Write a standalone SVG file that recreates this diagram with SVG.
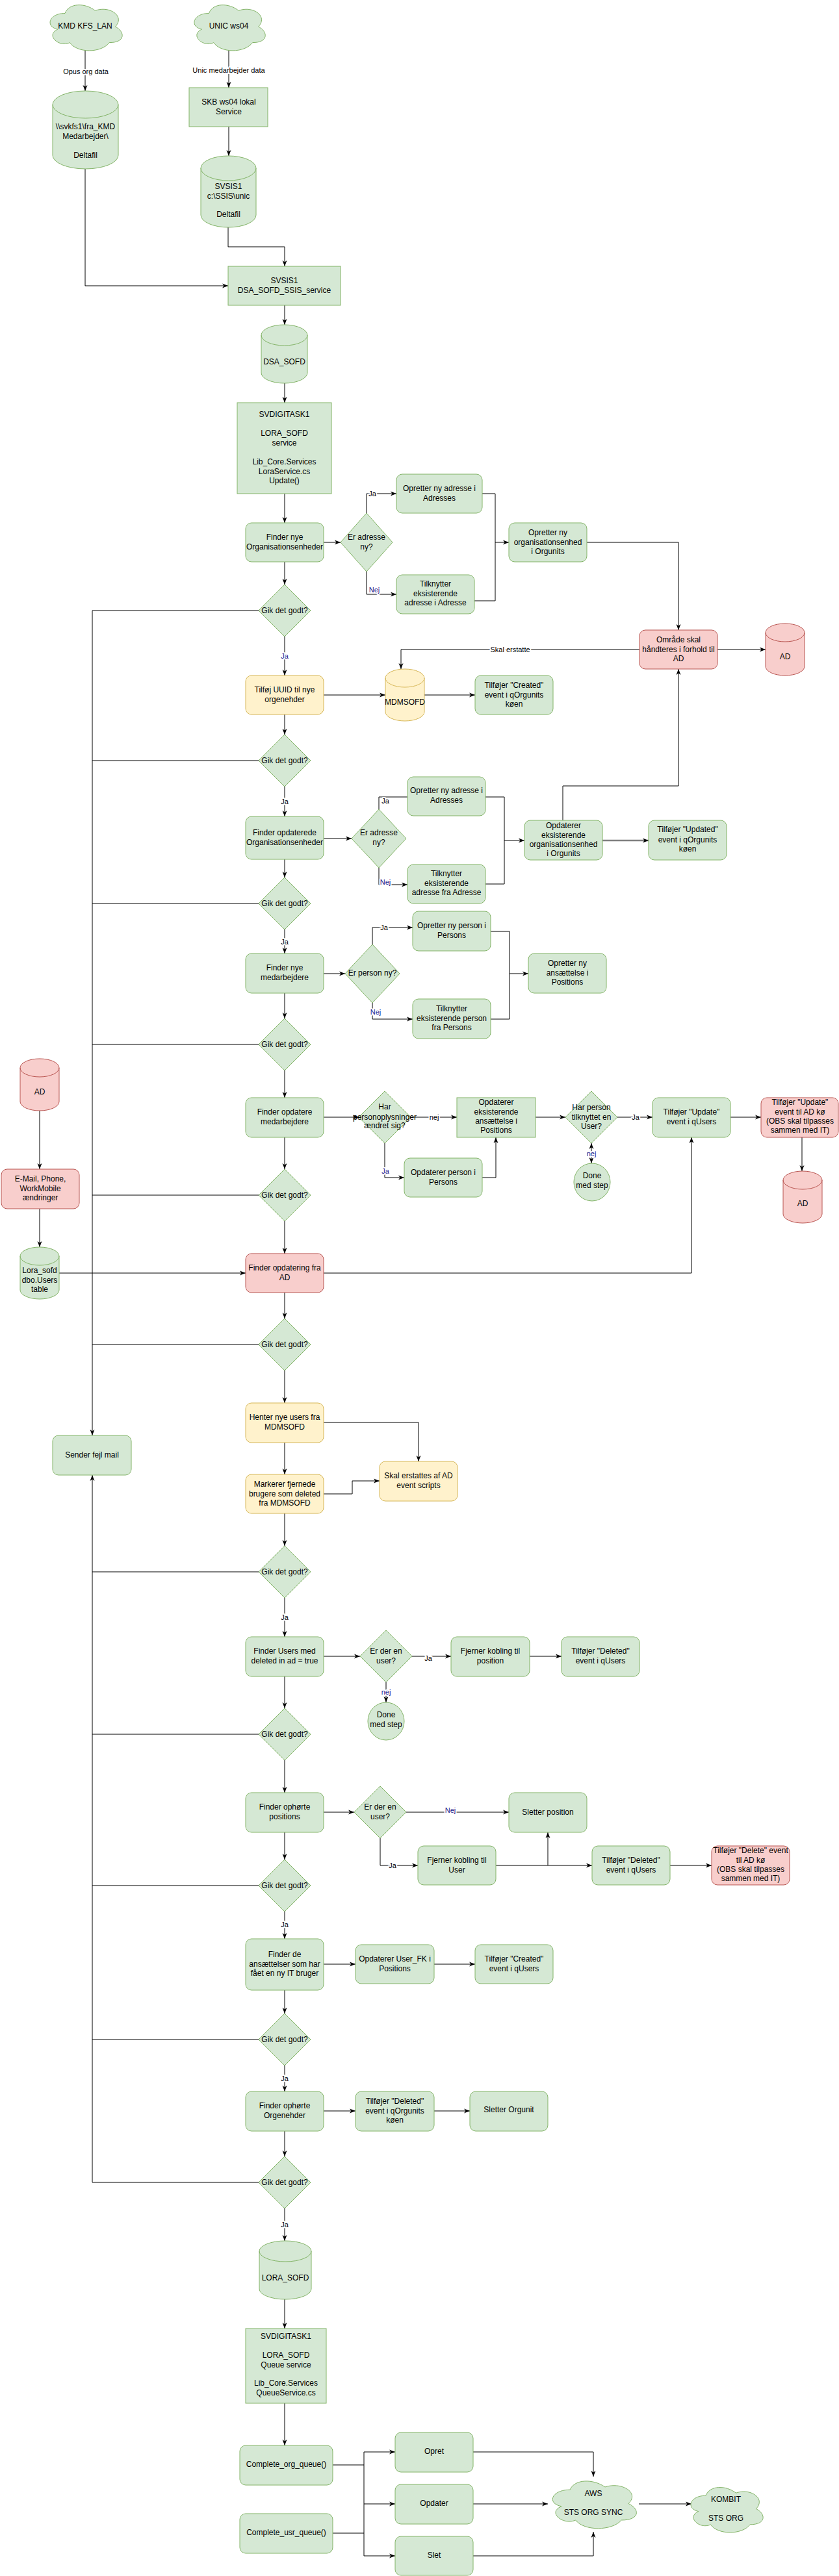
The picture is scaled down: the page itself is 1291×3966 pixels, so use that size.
<svg xmlns="http://www.w3.org/2000/svg" xmlns:xlink="http://www.w3.org/1999/xlink" width="1291" height="3966" viewBox="0 0 1291 3966">
<style>
.g{fill:#d5e8d4;stroke:#82b366;stroke-width:1}
.y{fill:#fff2cc;stroke:#d6b656;stroke-width:1}
.r{fill:#f8cecc;stroke:#b85450;stroke-width:1}
.nf{fill:none}
.t{font-family:"Liberation Sans",Arial,sans-serif;font-size:12px;text-anchor:middle;fill:#000}
.e{fill:none;stroke:#000;stroke-width:1}
.a{marker-end:url(#arr)}
.l{font-family:"Liberation Sans",Arial,sans-serif;font-size:11px;text-anchor:middle;fill:#000;paint-order:stroke;stroke:#fff;stroke-width:4px;stroke-linejoin:round}
.b{fill:#1a1a8c}
</style>
<defs>
<marker id="arr" markerWidth="10" markerHeight="8" refX="9" refY="4" orient="auto-start-reverse" markerUnits="userSpaceOnUse"><path d="M0,0.5 L9,4 L0,7.5 L2.5,4 Z" fill="#000"/></marker>
<path id="cloud" vector-effect="non-scaling-stroke" d="M25,25 C5,25 0,50 16,55 C0,66 18,90 31,80 C40,100 70,100 80,80 C100,80 100,60 87.5,50 C100,30 80,10 62.5,20 C50,5 30,5 25,25 Z"/>
</defs>
<rect width="1291" height="3966" fill="#fff"/>

<g id="connectors">
<path class="e a" d="M131,78 V140"/>
<path class="e a" d="M352,78 V135"/>
<path class="e a" d="M352,195 V240"/>
<path class="e a" d="M131,260 V440 H351"/>
<path class="e a" d="M351,350 V380 H438 V410"/>
<path class="e a" d="M438,470 V500"/>
<path class="e a" d="M438,590 V620"/>
<path class="e a" d="M438,760 V805"/>
<path class="e a" d="M498,835 H524"/>
<path class="e a" d="M564,790 V760 H610"/>
<path class="e a" d="M564,880 V915 H610"/>
<path class="e a" d="M742,760 H762 V835 H783"/>
<path class="e" d="M730,925 H762 V835"/>
<path class="e a" d="M903,835 H1044 V970"/>
<path class="e a" d="M438,865 V900"/>
<path class="e" d="M398,940 H142"/>
<path class="e a" d="M142,940 V2210"/>
<path class="e a" d="M438,980 V1040"/>
<path class="e a" d="M498,1070 H593"/>
<path class="e a" d="M653,1070 H731"/>
<path class="e a" d="M984,1000 H617 V1030"/>
<path class="e a" d="M1104,1000 H1178"/>
<path class="e a" d="M438,1100 V1131"/>
<path class="e" d="M398,1171 H142"/>
<path class="e a" d="M438,1211 V1257"/>
<path class="e a" d="M498,1291 H541"/>
<path class="e a" d="M583,1246 V1227 H645 H627"/>
<path class="e a" d="M583,1336 V1362 H627"/>
<path class="e a" d="M747,1227 H776 V1294 H807"/>
<path class="e" d="M747,1361 H776 V1294"/>
<path class="e a" d="M866,1263 V1210 H1044 V1030"/>
<path class="a" d="M927,1294 H998" fill="none" stroke="#808080" stroke-width="2.5"/>
<path class="e a" d="M438,1323 V1351"/>
<path class="e" d="M398,1391 H142"/>
<path class="e a" d="M438,1431 V1468"/>
<path class="e a" d="M498,1499 H531"/>
<path class="e a" d="M573,1454 V1428 H635"/>
<path class="e a" d="M573,1544 V1569 H635"/>
<path class="e a" d="M755,1434 H784 V1499 H813"/>
<path class="e" d="M755,1569 H784 V1499"/>
<path class="e a" d="M438,1529 V1568"/>
<path class="e" d="M398,1608 H142"/>
<path class="e a" d="M438,1648 V1690"/>
<path class="e a" d="M498,1720 H552"/>
<path class="e a" d="M632,1720 H703"/>
<path class="e a" d="M592,1760 V1813 H622"/>
<path class="e a" d="M742,1813 H763 V1751"/>
<path class="e a" d="M824,1720 H870"/>
<path class="e a" d="M950,1720 H1004"/>
<path class="e a" d="M910,1760 V1791" marker-start="url(#arr)"/>
<path class="e a" d="M1124,1720 H1171"/>
<path class="e a" d="M1234,1751 V1803"/>
<path class="e a" d="M61,1710 V1800"/>
<path class="e a" d="M61,1861 V1920"/>
<path class="e a" d="M91,1960 H378"/>
<path class="e a" d="M438,1751 V1800"/>
<path class="e" d="M398,1840 H142"/>
<path class="e a" d="M438,1880 V1930"/>
<path class="e a" d="M498,1960 H1064 V1751"/>
<path class="e a" d="M438,1990 V2030"/>
<path class="e" d="M398,2070 H142"/>
<path class="e a" d="M438,2110 V2160"/>
<path class="e a" d="M498,2190 H644 V2250"/>
<path class="e a" d="M438,2221 V2270"/>
<path class="e a" d="M498,2300 H542 V2280 H584"/>
<path class="e a" d="M438,2330 V2380"/>
<path class="e" d="M398,2420 H142"/>
<path class="e a" d="M438,2460 V2520"/>
<path class="e a" d="M498,2550 H554"/>
<path class="e a" d="M634,2550 H694"/>
<path class="e a" d="M815,2550 H864"/>
<path class="e a" d="M594,2590 V2621"/>
<path class="e a" d="M438,2581 V2630"/>
<path class="e" d="M398,2670 H142"/>
<path class="e a" d="M438,2710 V2760"/>
<path class="e a" d="M498,2790 H545"/>
<path class="e a" d="M625,2790 H783"/>
<path class="e a" d="M585,2830 V2872 H643"/>
<path class="e a" d="M763,2872 H911"/>
<path class="e a" d="M843,2872 V2821"/>
<path class="e a" d="M1031,2872 H1095"/>
<path class="e a" d="M438,2821 V2863"/>
<path class="e" d="M398,2903 H142"/>
<path class="e a" d="M438,2943 V2985"/>
<path class="e a" d="M498,3024 H547"/>
<path class="e a" d="M668,3024 H731"/>
<path class="e a" d="M438,3064 V3100"/>
<path class="e" d="M398,3140 H142"/>
<path class="e a" d="M438,3180 V3220"/>
<path class="e a" d="M498,3250 H547"/>
<path class="e a" d="M668,3250 H723"/>
<path class="e a" d="M438,3281 V3320"/>
<path class="e a" d="M398,3360 H142 V2271"/>
<path class="e a" d="M438,3400 V3450"/>
<path class="e a" d="M438,3540 V3585"/>
<path class="e a" d="M438,3700 V3765"/>
<path class="e" d="M512,3795 H560 M512,3900 H560 M560,3775 V3935"/>
<path class="e a" d="M560,3775 H608"/>
<path class="e a" d="M560,3855 H608"/>
<path class="e a" d="M560,3935 H608"/>
<path class="e a" d="M728,3775 H913 V3813"/>
<path class="e a" d="M728,3855 H843"/>
<path class="e a" d="M728,3935 H913 V3898"/>
<path class="e a" d="M983,3855 H1064"/>

<text class="l" x="132" y="114">Opus org data</text>
<text class="l" x="352" y="112">Unic medarbejder data</text>
<text class="l" x="573" y="764">Ja</text>
<text class="l b" x="576" y="912">Nej</text>
<text class="l b" x="438" y="1014">Ja</text>
<text class="l" x="785" y="1004">Skal erstatte</text>
<text class="l" x="438" y="1238">Ja</text>
<text class="l" x="593" y="1237">Ja</text>
<text class="l b" x="593" y="1362">Nej</text>
<text class="l" x="438" y="1454">Ja</text>
<text class="l" x="591" y="1432">Ja</text>
<text class="l b" x="578" y="1562">Nej</text>
<text class="l" x="668" y="1724">nej</text>
<text class="l b" x="593" y="1807">Ja</text>
<text class="l" x="978" y="1724">Ja</text>
<text class="l b" x="910" y="1780">nej</text>
<text class="l" x="438" y="2494">Ja</text>
<text class="l" x="659" y="2557">Ja</text>
<text class="l b" x="594" y="2609">nej</text>
<text class="l b" x="693" y="2791">Nej</text>
<text class="l" x="604" y="2876">Ja</text>
<text class="l" x="438" y="2967">Ja</text>
<text class="l" x="438" y="3204">Ja</text>
<text class="l" x="438" y="3429">Ja</text>
</g>

<g id="n-kmd-cloud"><use xlink:href="#cloud" class="g" transform="translate(69,0) scale(1.24,0.82)"/><text class="t" x="131" y="44">KMD KFS_LAN</text></g>
<g id="n-unic-cloud"><use xlink:href="#cloud" class="g" transform="translate(291,0) scale(1.22,0.82)"/><text class="t" x="352" y="44">UNIC ws04</text></g>
<g id="n-kmd-file"><path class="g" d="M81,161 A50.5,21 0 0 1 182,161 V239 A50.5,21 0 0 1 81,239 Z"/><path class="g nf" d="M81,161 A50.5,21 0 0 0 182,161"/><text class="t"><tspan x="131.5" y="199">\\svkfs1\fra_KMD</tspan><tspan x="131.5" y="214">Medarbejder\</tspan><tspan x="131.5" y="243">Deltafil</tspan></text></g>
<g id="n-skb"><rect class="g" x="291" y="135" width="121" height="60"/><text class="t"><tspan x="352" y="161">SKB ws04 lokal</tspan><tspan x="352" y="176">Service</tspan></text></g>
<g id="n-ssis-unic"><path class="g" d="M309,259 A42.5,19 0 0 1 394,259 V331 A42.5,19 0 0 1 309,331 Z"/><path class="g nf" d="M309,259 A42.5,19 0 0 0 394,259"/><text class="t"><tspan x="351.5" y="291">SVSIS1</tspan><tspan x="351.5" y="306">c:\SSIS\unic</tspan><tspan x="351.5" y="334">Deltafil</tspan></text></g>
<g id="n-ssis-service"><rect class="g" x="351" y="410" width="173" height="60"/><text class="t"><tspan x="437.5" y="436">SVSIS1</tspan><tspan x="437.5" y="451">DSA_SOFD_SSIS_service</tspan></text></g>
<g id="n-dsa-sofd"><path class="g" d="M402,516 A35.5,16 0 0 1 473,516 V574 A35.5,16 0 0 1 402,574 Z"/><path class="g nf" d="M402,516 A35.5,16 0 0 0 473,516"/><text class="t" x="437.5" y="561">DSA_SOFD</text></g>
<g id="n-lora-service"><rect class="g" x="365" y="620" width="145" height="140"/><text class="t"><tspan x="437.5" y="642">SVDIGITASK1</tspan><tspan x="437.5" y="671">LORA_SOFD</tspan><tspan x="437.5" y="686">service</tspan><tspan x="437.5" y="715">Lib_Core.Services</tspan><tspan x="437.5" y="730">LoraService.cs</tspan><tspan x="437.5" y="744">Update()</tspan></text></g>
<g id="n-finder-nye-org"><rect class="g" x="378" y="805" width="120" height="60" rx="9"/><text class="t"><tspan x="438" y="831">Finder nye</tspan><tspan x="438" y="846">Organisationsenheder</tspan></text></g>
<g id="n-er-adresse-ny-1"><polygon class="g" points="564,790 604,835 564,880 524,835"/><text class="t"><tspan x="564" y="831">Er adresse</tspan><tspan x="564" y="846">ny?</tspan></text></g>
<g id="n-opretter-adresse-1"><rect class="g" x="610" y="730" width="132" height="60" rx="9"/><text class="t"><tspan x="676" y="756">Opretter ny adresse i</tspan><tspan x="676" y="771">Adresses</tspan></text></g>
<g id="n-tilknytter-adresse-1"><rect class="g" x="610" y="885" width="120" height="60" rx="9"/><text class="t"><tspan x="670" y="903">Tilknytter</tspan><tspan x="670" y="918">eksisterende</tspan><tspan x="670" y="932">adresse i Adresse</tspan></text></g>
<g id="n-opretter-orgunit"><rect class="g" x="783" y="805" width="120" height="60" rx="9"/><text class="t"><tspan x="843" y="824">Opretter ny</tspan><tspan x="843" y="839">organisationsenhed</tspan><tspan x="843" y="853">i Orgunits</tspan></text></g>
<g id="n-gik-1"><polygon class="g" points="438,900 478,940 438,980 398,940"/><text class="t" x="438" y="944">Gik det godt?</text></g>
<g id="n-tilfoej-uuid"><rect class="y" x="378" y="1040" width="120" height="60" rx="9"/><text class="t"><tspan x="438" y="1066">Tilføj UUID til nye</tspan><tspan x="438" y="1081">orgenehder</tspan></text></g>
<g id="n-mdmsofd"><path class="y" d="M593,1044 A30,14 0 0 1 653,1044 V1096 A30,14 0 0 1 593,1096 Z"/><path class="y nf" d="M593,1044 A30,14 0 0 0 653,1044"/><text class="t" x="623" y="1085">MDMSOFD</text></g>
<g id="n-created-qorgunits"><rect class="g" x="731" y="1040" width="120" height="60" rx="9"/><text class="t"><tspan x="791" y="1059">Tilføjer "Created"</tspan><tspan x="791" y="1074">event i qOrgunits</tspan><tspan x="791" y="1088">køen</tspan></text></g>
<g id="n-omraade-ad"><rect class="r" x="984" y="970" width="120" height="60" rx="9"/><text class="t"><tspan x="1044" y="989">Område skal</tspan><tspan x="1044" y="1004">håndteres i forhold til</tspan><tspan x="1044" y="1018">AD</tspan></text></g>
<g id="n-ad-1"><path class="r" d="M1178,974 A30,14 0 0 1 1238,974 V1026 A30,14 0 0 1 1178,1026 Z"/><path class="r nf" d="M1178,974 A30,14 0 0 0 1238,974"/><text class="t" x="1208" y="1015">AD</text></g>
<g id="n-gik-2"><polygon class="g" points="438,1131 478,1171 438,1211 398,1171"/><text class="t" x="438" y="1175">Gik det godt?</text></g>
<g id="n-finder-opd-org"><rect class="g" x="378" y="1257" width="120" height="66" rx="9"/><text class="t"><tspan x="438" y="1286">Finder opdaterede</tspan><tspan x="438" y="1301">Organisationsenheder</tspan></text></g>
<g id="n-er-adresse-ny-2"><polygon class="g" points="583,1246 625,1291 583,1336 541,1291"/><text class="t"><tspan x="583" y="1286">Er adresse</tspan><tspan x="583" y="1301">ny?</tspan></text></g>
<g id="n-opretter-adresse-2"><rect class="g" x="627" y="1196" width="120" height="60" rx="9"/><text class="t"><tspan x="687" y="1221">Opretter ny adresse i</tspan><tspan x="687" y="1236">Adresses</tspan></text></g>
<g id="n-tilknytter-adresse-2"><rect class="g" x="627" y="1331" width="120" height="60" rx="9"/><text class="t"><tspan x="687" y="1349">Tilknytter</tspan><tspan x="687" y="1364">eksisterende</tspan><tspan x="687" y="1378">adresse fra Adresse</tspan></text></g>
<g id="n-opdaterer-orgunit"><rect class="g" x="807" y="1263" width="120" height="61" rx="9"/><text class="t"><tspan x="867" y="1275">Opdaterer</tspan><tspan x="867" y="1290">eksisterende</tspan><tspan x="867" y="1304">organisationsenhed</tspan><tspan x="867" y="1318">i Orgunits</tspan></text></g>
<g id="n-updated-qorgunits"><rect class="g" x="998" y="1263" width="120" height="61" rx="9"/><text class="t"><tspan x="1058" y="1281">Tilføjer "Updated"</tspan><tspan x="1058" y="1297">event i qOrgunits</tspan><tspan x="1058" y="1311">køen</tspan></text></g>
<g id="n-gik-3"><polygon class="g" points="438,1351 478,1391 438,1431 398,1391"/><text class="t" x="438" y="1395">Gik det godt?</text></g>
<g id="n-finder-nye-medarb"><rect class="g" x="378" y="1468" width="120" height="61" rx="9"/><text class="t"><tspan x="438" y="1494">Finder nye</tspan><tspan x="438" y="1509">medarbejdere</tspan></text></g>
<g id="n-er-person-ny"><polygon class="g" points="573,1454 615,1499 573,1544 531,1499"/><text class="t" x="573" y="1502">Er person ny?</text></g>
<g id="n-opretter-person"><rect class="g" x="635" y="1403" width="120" height="61" rx="9"/><text class="t"><tspan x="695" y="1429">Opretter ny person i</tspan><tspan x="695" y="1444">Persons</tspan></text></g>
<g id="n-tilknytter-person"><rect class="g" x="635" y="1538" width="120" height="61" rx="9"/><text class="t"><tspan x="695" y="1557">Tilknytter</tspan><tspan x="695" y="1572">eksisterende person</tspan><tspan x="695" y="1586">fra Persons</tspan></text></g>
<g id="n-opretter-ansaettelse"><rect class="g" x="813" y="1468" width="120" height="61" rx="9"/><text class="t"><tspan x="873" y="1487">Opretter ny</tspan><tspan x="873" y="1502">ansættelse i</tspan><tspan x="873" y="1516">Positions</tspan></text></g>
<g id="n-gik-4"><polygon class="g" points="438,1568 478,1608 438,1648 398,1608"/><text class="t" x="438" y="1612">Gik det godt?</text></g>
<g id="n-finder-opd-medarb"><rect class="g" x="378" y="1690" width="120" height="61" rx="9"/><text class="t"><tspan x="438" y="1716">Finder opdatere</tspan><tspan x="438" y="1731">medarbejdere</tspan></text></g>
<g id="n-har-personopl"><polygon class="g" points="592,1680 632,1720 592,1760 552,1720"/><text class="t"><tspan x="592" y="1708">Har</tspan><tspan x="592" y="1724">personoplysninger</tspan><tspan x="592" y="1737">ændret sig?</tspan></text></g>
<g id="n-opdaterer-ansaettelse"><rect class="g" x="703" y="1690" width="121" height="61"/><text class="t"><tspan x="763.5" y="1701">Opdaterer</tspan><tspan x="763.5" y="1716">eksisterende</tspan><tspan x="763.5" y="1730">ansættelse i</tspan><tspan x="763.5" y="1744">Positions</tspan></text></g>
<g id="n-opdaterer-person"><rect class="g" x="622" y="1783" width="120" height="60" rx="9"/><text class="t"><tspan x="682" y="1809">Opdaterer person i</tspan><tspan x="682" y="1824">Persons</tspan></text></g>
<g id="n-har-person-user"><polygon class="g" points="910,1680 950,1720 910,1760 870,1720"/><text class="t"><tspan x="910" y="1709">Har person</tspan><tspan x="910" y="1724">tilknyttet en</tspan><tspan x="910" y="1738">User?</tspan></text></g>
<g id="n-done-1"><ellipse class="g" cx="911" cy="1820" rx="28" ry="29"/><text class="t"><tspan x="911" y="1814">Done</tspan><tspan x="911" y="1829">med step</tspan></text></g>
<g id="n-update-qusers"><rect class="g" x="1004" y="1690" width="120" height="61" rx="9"/><text class="t"><tspan x="1064" y="1716">Tilføjer "Update"</tspan><tspan x="1064" y="1731">event i qUsers</tspan></text></g>
<g id="n-update-ad"><rect class="r" x="1171" y="1690" width="119" height="61" rx="9"/><text class="t"><tspan x="1231" y="1701">Tilføjer "Update"</tspan><tspan x="1231" y="1716">event til AD kø</tspan><tspan x="1231" y="1730">(OBS skal tilpasses</tspan><tspan x="1231" y="1744">sammen med IT)</tspan></text></g>
<g id="n-ad-2"><path class="r" d="M1205,1817 A30,14 0 0 1 1265,1817 V1869 A30,14 0 0 1 1205,1869 Z"/><path class="r nf" d="M1205,1817 A30,14 0 0 0 1265,1817"/><text class="t" x="1235" y="1857">AD</text></g>
<g id="n-ad-left"><path class="r" d="M31,1644 A30,14 0 0 1 91,1644 V1696 A30,14 0 0 1 31,1696 Z"/><path class="r nf" d="M31,1644 A30,14 0 0 0 91,1644"/><text class="t" x="61" y="1685">AD</text></g>
<g id="n-email-phone"><rect class="r" x="2" y="1800" width="120" height="61" rx="9"/><text class="t"><tspan x="62" y="1819">E-Mail, Phone,</tspan><tspan x="62" y="1834">WorkMobile</tspan><tspan x="62" y="1848">ændringer</tspan></text></g>
<g id="n-lora-users"><path class="g" d="M31,1934 A30,14 0 0 1 91,1934 V1986 A30,14 0 0 1 31,1986 Z"/><path class="g nf" d="M31,1934 A30,14 0 0 0 91,1934"/><text class="t"><tspan x="61" y="1960">Lora_sofd</tspan><tspan x="61" y="1975">dbo.Users</tspan><tspan x="61" y="1989">table</tspan></text></g>
<g id="n-gik-5"><polygon class="g" points="438,1800 478,1840 438,1880 398,1840"/><text class="t" x="438" y="1844">Gik det godt?</text></g>
<g id="n-finder-opd-ad"><rect class="r" x="378" y="1930" width="120" height="60" rx="9"/><text class="t"><tspan x="438" y="1956">Finder opdatering fra</tspan><tspan x="438" y="1971">AD</tspan></text></g>
<g id="n-gik-6"><polygon class="g" points="438,2030 478,2070 438,2110 398,2070"/><text class="t" x="438" y="2074">Gik det godt?</text></g>
<g id="n-henter-users"><rect class="y" x="378" y="2160" width="120" height="61" rx="9"/><text class="t"><tspan x="438" y="2186">Henter nye users fra</tspan><tspan x="438" y="2201">MDMSOFD</tspan></text></g>
<g id="n-skal-erstattes"><rect class="y" x="584" y="2250" width="120" height="61" rx="9"/><text class="t"><tspan x="644" y="2276">Skal erstattes af AD</tspan><tspan x="644" y="2291">event scripts</tspan></text></g>
<g id="n-markerer"><rect class="y" x="378" y="2270" width="120" height="60" rx="9"/><text class="t"><tspan x="438" y="2289">Markerer fjernede</tspan><tspan x="438" y="2304">brugere som deleted</tspan><tspan x="438" y="2318">fra MDMSOFD</tspan></text></g>
<g id="n-sender-fejl"><rect class="g" x="81" y="2210" width="121" height="61" rx="9"/><text class="t" x="141.5" y="2244">Sender fejl mail</text></g>
<g id="n-gik-7"><polygon class="g" points="438,2380 478,2420 438,2460 398,2420"/><text class="t" x="438" y="2424">Gik det godt?</text></g>
<g id="n-finder-users-deleted"><rect class="g" x="378" y="2520" width="120" height="61" rx="9"/><text class="t"><tspan x="438" y="2546">Finder Users med</tspan><tspan x="438" y="2561">deleted in ad = true</tspan></text></g>
<g id="n-er-der-user-1"><polygon class="g" points="594,2510 634,2550 594,2590 554,2550"/><text class="t"><tspan x="594" y="2546">Er der en</tspan><tspan x="594" y="2561">user?</tspan></text></g>
<g id="n-fjerner-position"><rect class="g" x="694" y="2520" width="121" height="61" rx="9"/><text class="t"><tspan x="754.5" y="2546">Fjerner kobling til</tspan><tspan x="754.5" y="2561">position</tspan></text></g>
<g id="n-deleted-qusers-1"><rect class="g" x="864" y="2520" width="120" height="61" rx="9"/><text class="t"><tspan x="924" y="2546">Tilføjer "Deleted"</tspan><tspan x="924" y="2561">event i qUsers</tspan></text></g>
<g id="n-done-2"><ellipse class="g" cx="594" cy="2650" rx="28" ry="29"/><text class="t"><tspan x="594" y="2644">Done</tspan><tspan x="594" y="2659">med step</tspan></text></g>
<g id="n-gik-8"><polygon class="g" points="438,2630 478,2670 438,2710 398,2670"/><text class="t" x="438" y="2674">Gik det godt?</text></g>
<g id="n-finder-ophoerte-pos"><rect class="g" x="378" y="2760" width="120" height="61" rx="9"/><text class="t"><tspan x="438" y="2786">Finder ophørte</tspan><tspan x="438" y="2801">positions</tspan></text></g>
<g id="n-er-der-user-2"><polygon class="g" points="585,2750 625,2790 585,2830 545,2790"/><text class="t"><tspan x="585" y="2786">Er der en</tspan><tspan x="585" y="2801">user?</tspan></text></g>
<g id="n-sletter-position"><rect class="g" x="783" y="2760" width="120" height="61" rx="9"/><text class="t" x="843" y="2794">Sletter position</text></g>
<g id="n-fjerner-user"><rect class="g" x="643" y="2842" width="120" height="60" rx="9"/><text class="t"><tspan x="703" y="2868">Fjerner kobling til</tspan><tspan x="703" y="2883">User</tspan></text></g>
<g id="n-deleted-qusers-2"><rect class="g" x="911" y="2842" width="120" height="60" rx="9"/><text class="t"><tspan x="971" y="2868">Tilføjer "Deleted"</tspan><tspan x="971" y="2883">event i qUsers</tspan></text></g>
<g id="n-delete-ad"><rect class="r" x="1095" y="2842" width="120" height="60" rx="9"/><text class="t"><tspan x="1155" y="2853">Tilføjer "Delete" event</tspan><tspan x="1155" y="2868">til AD kø</tspan><tspan x="1155" y="2882">(OBS skal tilpasses</tspan><tspan x="1155" y="2896">sammen med IT)</tspan></text></g>
<g id="n-gik-9"><polygon class="g" points="438,2863 478,2903 438,2943 398,2903"/><text class="t" x="438" y="2907">Gik det godt?</text></g>
<g id="n-finder-ny-it"><rect class="g" x="378" y="2985" width="120" height="79" rx="9"/><text class="t"><tspan x="438" y="3013">Finder de</tspan><tspan x="438" y="3028">ansættelser som har</tspan><tspan x="438" y="3042">fået en ny IT bruger</tspan></text></g>
<g id="n-opdaterer-userfk"><rect class="g" x="547" y="2994" width="121" height="60" rx="9"/><text class="t"><tspan x="607.5" y="3020">Opdaterer User_FK i</tspan><tspan x="607.5" y="3035">Positions</tspan></text></g>
<g id="n-created-qusers"><rect class="g" x="731" y="2994" width="120" height="60" rx="9"/><text class="t"><tspan x="791" y="3020">Tilføjer "Created"</tspan><tspan x="791" y="3035">event i qUsers</tspan></text></g>
<g id="n-gik-10"><polygon class="g" points="438,3100 478,3140 438,3180 398,3140"/><text class="t" x="438" y="3144">Gik det godt?</text></g>
<g id="n-finder-ophoerte-org"><rect class="g" x="378" y="3220" width="120" height="61" rx="9"/><text class="t"><tspan x="438" y="3246">Finder ophørte</tspan><tspan x="438" y="3261">Orgenehder</tspan></text></g>
<g id="n-deleted-qorgunits"><rect class="g" x="547" y="3220" width="121" height="61" rx="9"/><text class="t"><tspan x="607.5" y="3239">Tilføjer "Deleted"</tspan><tspan x="607.5" y="3254">event i qOrgunits</tspan><tspan x="607.5" y="3268">køen</tspan></text></g>
<g id="n-sletter-orgunit"><rect class="g" x="723" y="3220" width="120" height="61" rx="9"/><text class="t" x="783" y="3252">Sletter Orgunit</text></g>
<g id="n-gik-11"><polygon class="g" points="438,3320 478,3360 438,3400 398,3360"/><text class="t" x="438" y="3364">Gik det godt?</text></g>
<g id="n-lora-sofd-db"><path class="g" d="M399,3466 A40,16 0 0 1 479,3466 V3524 A40,16 0 0 1 399,3524 Z"/><path class="g nf" d="M399,3466 A40,16 0 0 0 479,3466"/><text class="t" x="439" y="3511">LORA_SOFD</text></g>
<g id="n-queue-service"><rect class="g" x="378" y="3585" width="124" height="115"/><text class="t"><tspan x="440" y="3601">SVDIGITASK1</tspan><tspan x="440" y="3630">LORA_SOFD</tspan><tspan x="440" y="3645">Queue service</tspan><tspan x="440" y="3673">Lib_Core.Services</tspan><tspan x="440" y="3688">QueueService.cs</tspan></text></g>
<g id="n-complete-org"><rect class="g" x="369" y="3765" width="143" height="61" rx="9"/><text class="t" x="440.5" y="3798">Complete_org_queue()</text></g>
<g id="n-complete-usr"><rect class="g" x="369" y="3870" width="143" height="61" rx="9"/><text class="t" x="440.5" y="3903">Complete_usr_queue()</text></g>
<g id="n-opret"><rect class="g" x="608" y="3745" width="120" height="61" rx="9"/><text class="t" x="668" y="3778">Opret</text></g>
<g id="n-opdater"><rect class="g" x="608" y="3825" width="120" height="61" rx="9"/><text class="t" x="668" y="3858">Opdater</text></g>
<g id="n-slet"><rect class="g" x="608" y="3905" width="120" height="60" rx="9"/><text class="t" x="668" y="3938">Slet</text></g>
<g id="n-aws"><use xlink:href="#cloud" class="g" transform="translate(841,3812) scale(1.44,0.85)"/><text class="t"><tspan x="913" y="3843">AWS</tspan><tspan x="913" y="3872">STS ORG SYNC</tspan></text></g>
<g id="n-kombit"><use xlink:href="#cloud" class="g" transform="translate(1055,3822) scale(1.24,0.81)"/><text class="t"><tspan x="1117" y="3852">KOMBIT</tspan><tspan x="1117" y="3881">STS ORG</tspan></text></g>
</svg>
